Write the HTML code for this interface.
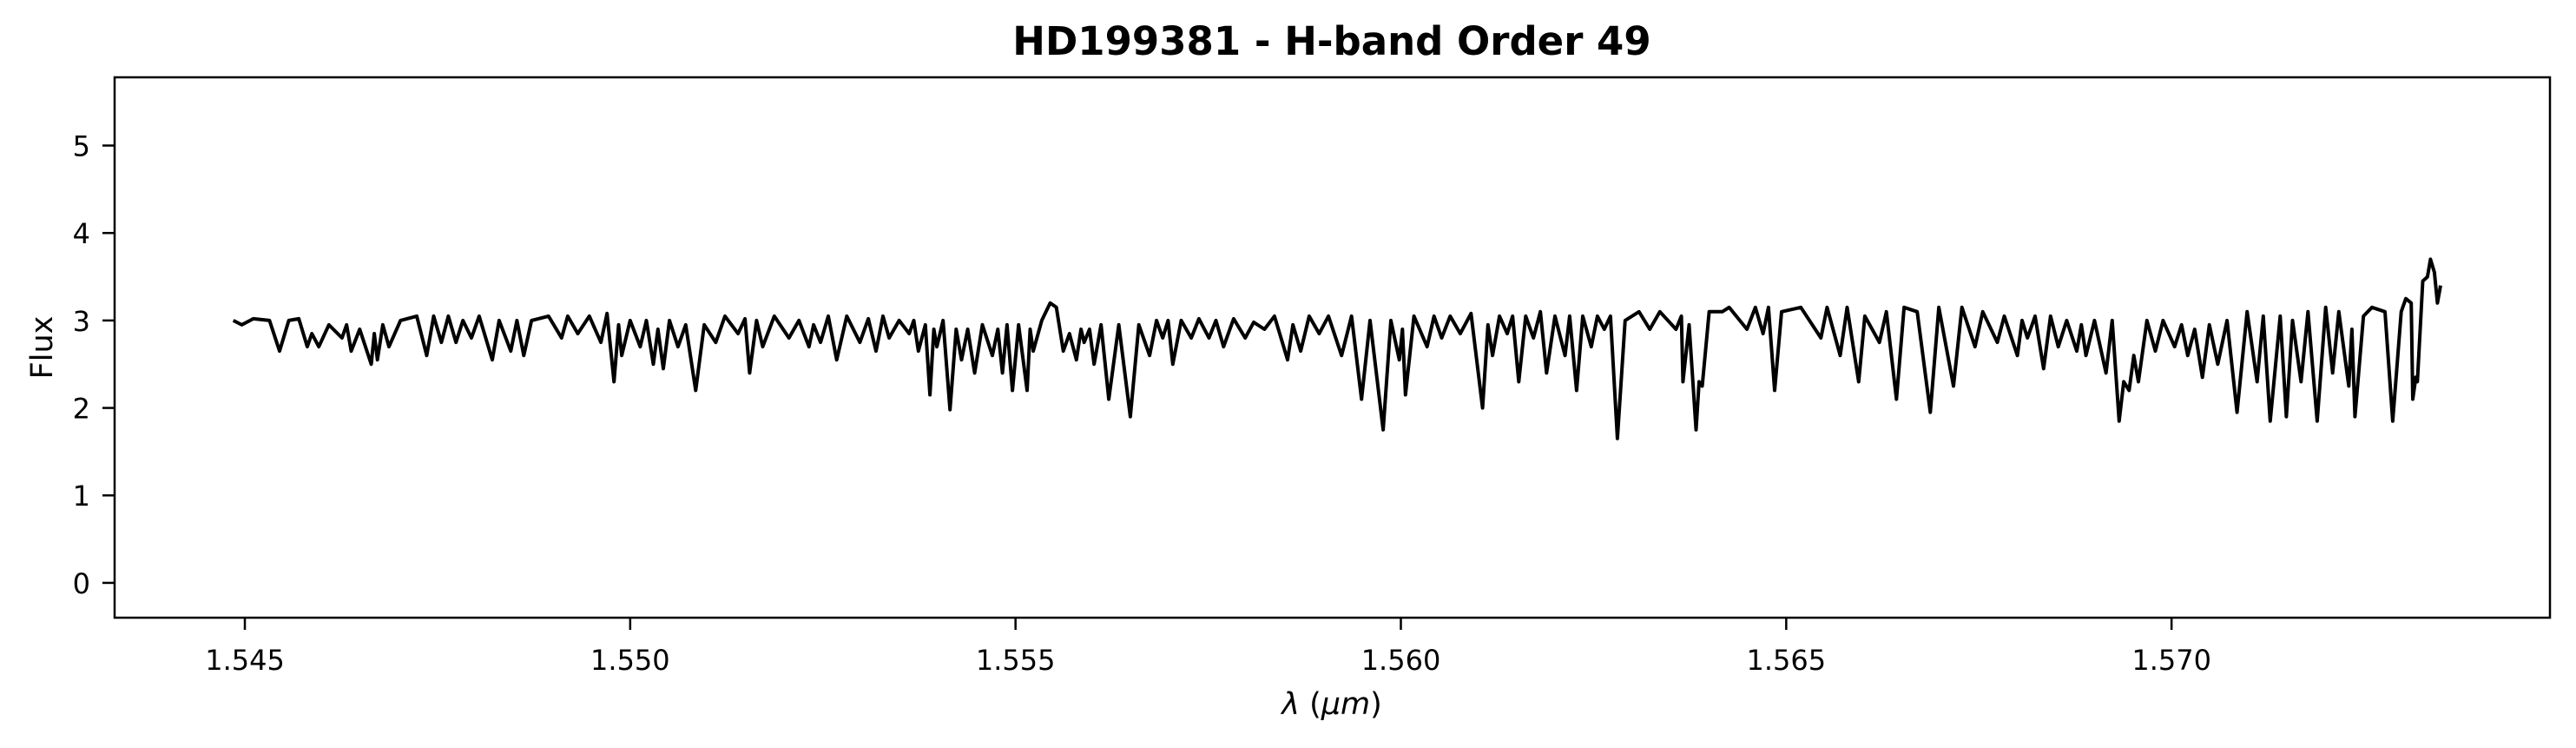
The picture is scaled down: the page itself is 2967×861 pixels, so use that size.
<!DOCTYPE html>
<html><head><meta charset="utf-8"><style>
html,body{margin:0;padding:0;background:#fff;}
svg{display:block;font-family:"DejaVu Sans","Liberation Sans",sans-serif;}
</style></head><body>
<svg id="chart" width="2967" height="861" viewBox="0 0 2967 861" xmlns="http://www.w3.org/2000/svg">
<rect width="2967" height="861" fill="#fff"/>
<text x="1534" y="63" text-anchor="middle" font-size="45" font-weight="bold">HD199381 - H-band Order 49</text>
<g id="xticks"></g>
<g id="yticks"></g>
<path id="line" fill="none" stroke="#000" stroke-width="4" stroke-linejoin="round"/>
<rect x="132" y="89" width="2805" height="622" fill="none" stroke="#000" stroke-width="2.5"/>
<text x="1534" y="822" text-anchor="middle" font-size="35"><tspan font-style="italic">λ</tspan> (<tspan font-style="italic">μm</tspan>)</text>
<text x="60" y="400" text-anchor="middle" font-size="35" transform="rotate(-90 60 400)">Flux</text>
</svg>
<script>
const wavelength = [1.54485,1.54496,1.54511,1.54532,1.54545,1.54557,1.54570,1.54581,1.54587,1.54596,1.54609,1.54626,1.54632,1.54638,1.54649,1.54664,1.54668,1.54672,1.54679,1.54687,1.54702,1.54723,1.54736,1.54745,1.54755,1.54764,1.54774,1.54783,1.54794,1.54804,1.54821,1.54830,1.54845,1.54853,1.54862,1.54872,1.54894,1.54911,1.54919,1.54932,1.54947,1.54962,1.54970,1.54979,1.54985,1.54989,1.55000,1.55013,1.55021,1.55030,1.55036,1.55043,1.55051,1.55062,1.55072,1.55085,1.55096,1.55111,1.55123,1.55140,1.55149,1.55155,1.55164,1.55172,1.55187,1.55206,1.55219,1.55232,1.55238,1.55247,1.55257,1.55268,1.55281,1.55298,1.55309,1.55319,1.55328,1.55336,1.55349,1.55362,1.55368,1.55374,1.55383,1.55389,1.55394,1.55398,1.55406,1.55415,1.55423,1.55430,1.55438,1.55447,1.55457,1.55470,1.55477,1.55483,1.55489,1.55496,1.55504,1.55515,1.55519,1.55523,1.55534,1.55545,1.55553,1.55562,1.55570,1.55579,1.55585,1.55589,1.55596,1.55602,1.55611,1.55621,1.55634,1.55649,1.55660,1.55674,1.55683,1.55691,1.55698,1.55704,1.55715,1.55728,1.55738,1.55751,1.55760,1.55770,1.55783,1.55798,1.55809,1.55823,1.55836,1.55853,1.55860,1.55870,1.55881,1.55894,1.55906,1.55923,1.55936,1.55949,1.55960,1.55977,1.55987,1.55998,1.56002,1.56006,1.56017,1.56034,1.56043,1.56053,1.56064,1.56077,1.56091,1.56106,1.56113,1.56119,1.56128,1.56138,1.56145,1.56153,1.56162,1.56172,1.56181,1.56189,1.56200,1.56213,1.56219,1.56228,1.56236,1.56247,1.56255,1.56264,1.56272,1.56281,1.56291,1.56309,1.56323,1.56336,1.56357,1.56364,1.56366,1.56374,1.56383,1.56387,1.56391,1.56400,1.56417,1.56426,1.56449,1.56460,1.56470,1.56477,1.56485,1.56494,1.56519,1.56545,1.56553,1.56570,1.56579,1.56594,1.56602,1.56621,1.56630,1.56643,1.56653,1.56670,1.56687,1.56698,1.56717,1.56728,1.56745,1.56755,1.56774,1.56783,1.56800,1.56806,1.56813,1.56823,1.56834,1.56843,1.56853,1.56864,1.56877,1.56883,1.56889,1.56900,1.56915,1.56923,1.56932,1.56938,1.56945,1.56951,1.56957,1.56968,1.56979,1.56989,1.57004,1.57013,1.57021,1.57030,1.57040,1.57049,1.57060,1.57072,1.57085,1.57098,1.57111,1.57119,1.57128,1.57141,1.57149,1.57157,1.57168,1.57177,1.57189,1.57200,1.57209,1.57217,1.57230,1.57234,1.57238,1.57249,1.57260,1.57277,1.57287,1.57298,1.57304,1.57311,1.57313,1.57317,1.57319,1.57326,1.57332,1.57336,1.57341,1.57345,1.57349];
const flux = [3.0,2.95,3.02,3.0,2.65,3.0,3.02,2.7,2.85,2.7,2.95,2.8,2.95,2.65,2.9,2.5,2.85,2.55,2.95,2.7,3.0,3.05,2.6,3.05,2.75,3.05,2.75,3.0,2.8,3.05,2.55,3.0,2.65,3.0,2.6,3.0,3.05,2.8,3.05,2.85,3.05,2.75,3.08,2.3,2.95,2.6,3.0,2.7,3.0,2.5,2.9,2.45,3.0,2.7,2.95,2.2,2.95,2.75,3.05,2.85,3.02,2.4,3.0,2.7,3.05,2.8,3.0,2.7,2.95,2.75,3.05,2.55,3.05,2.75,3.02,2.65,3.05,2.8,3.0,2.85,3.0,2.65,2.95,2.15,2.9,2.7,3.0,1.98,2.9,2.55,2.9,2.4,2.95,2.6,2.9,2.4,2.95,2.2,2.95,2.2,2.9,2.65,3.0,3.2,3.15,2.65,2.85,2.55,2.9,2.75,2.9,2.5,2.95,2.1,2.95,1.9,2.95,2.6,3.0,2.8,3.0,2.5,3.0,2.8,3.02,2.8,3.0,2.7,3.02,2.8,2.98,2.9,3.05,2.55,2.95,2.65,3.05,2.85,3.05,2.6,3.05,2.1,3.0,1.75,3.0,2.55,2.9,2.15,3.05,2.7,3.05,2.8,3.05,2.85,3.08,2.0,2.95,2.6,3.05,2.85,3.05,2.3,3.05,2.8,3.1,2.4,3.05,2.6,3.05,2.2,3.05,2.7,3.05,2.9,3.05,1.65,3.0,3.1,2.9,3.1,2.9,3.05,2.3,2.95,1.75,2.3,2.25,3.1,3.1,3.15,2.9,3.15,2.85,3.15,2.2,3.1,3.15,2.8,3.15,2.6,3.15,2.3,3.05,2.75,3.1,2.1,3.15,3.1,1.95,3.15,2.25,3.15,2.7,3.1,2.75,3.05,2.6,3.0,2.8,3.05,2.45,3.05,2.7,3.0,2.65,2.95,2.6,3.0,2.4,3.0,1.85,2.3,2.2,2.6,2.3,3.0,2.65,3.0,2.7,2.95,2.6,2.9,2.35,2.95,2.5,3.0,1.95,3.1,2.3,3.05,1.85,3.05,1.9,3.0,2.3,3.1,1.85,3.15,2.4,3.1,2.25,2.9,1.9,3.05,3.15,3.1,1.85,3.1,3.25,3.2,2.1,2.35,2.3,3.45,3.5,3.7,3.55,3.2,3.4];
const xTickValues = [1.545,1.550,1.555,1.560,1.565,1.570];
const xTickLabels = ["1.545","1.550","1.555","1.560","1.565","1.570"];
const yTickValues = [0,1,2,3,4,5];
const yTickLabels = ["0","1","2","3","4","5"];

const X0=132,X1=2937,Y0=711,Y1=89;
const xMin=1.54331,xMax=1.57491,yMin=-0.398,yMax=5.78;
function xs(v){return X0+(v-xMin)/(xMax-xMin)*(X1-X0);}
function ys(v){return Y0-(v-yMin)/(yMax-yMin)*(Y0-Y1);}
const NS="http://www.w3.org/2000/svg";
let d="";
for(let i=0;i<wavelength.length;i++){d+=(i?"L":"M")+xs(wavelength[i]).toFixed(1)+" "+ys(flux[i]).toFixed(1);}
document.getElementById("line").setAttribute("d",d);
const gx=document.getElementById("xticks");
xTickValues.forEach((v,i)=>{
  const x=xs(v);
  const l=document.createElementNS(NS,"line");
  
  
  l.setAttribute("x1",x);l.setAttribute("x2",x);l.setAttribute("y1",711);l.setAttribute("y2",725);
  l.setAttribute("stroke","#000");l.setAttribute("stroke-width","2.5");
  gx.appendChild(l);
  const t=document.createElementNS(NS,"text");
  
  
  t.setAttribute("x",x);t.setAttribute("y",771);t.setAttribute("text-anchor","middle");t.setAttribute("font-size","32");
  t.textContent=xTickLabels[i];gx.appendChild(t);
});
const gy=document.getElementById("yticks");
yTickValues.forEach((v,i)=>{
  const y=ys(v);
  const l=document.createElementNS(NS,"line");
  
  
  l.setAttribute("x1",118);l.setAttribute("x2",132);l.setAttribute("y1",y);l.setAttribute("y2",y);
  l.setAttribute("stroke","#000");l.setAttribute("stroke-width","2.5");
  gy.appendChild(l);
  const t=document.createElementNS(NS,"text");
  
  
  t.setAttribute("x",104);t.setAttribute("y",y+12);t.setAttribute("text-anchor","end");t.setAttribute("font-size","32");
  t.textContent=yTickLabels[i];gy.appendChild(t);
});
</script>
</body></html>
